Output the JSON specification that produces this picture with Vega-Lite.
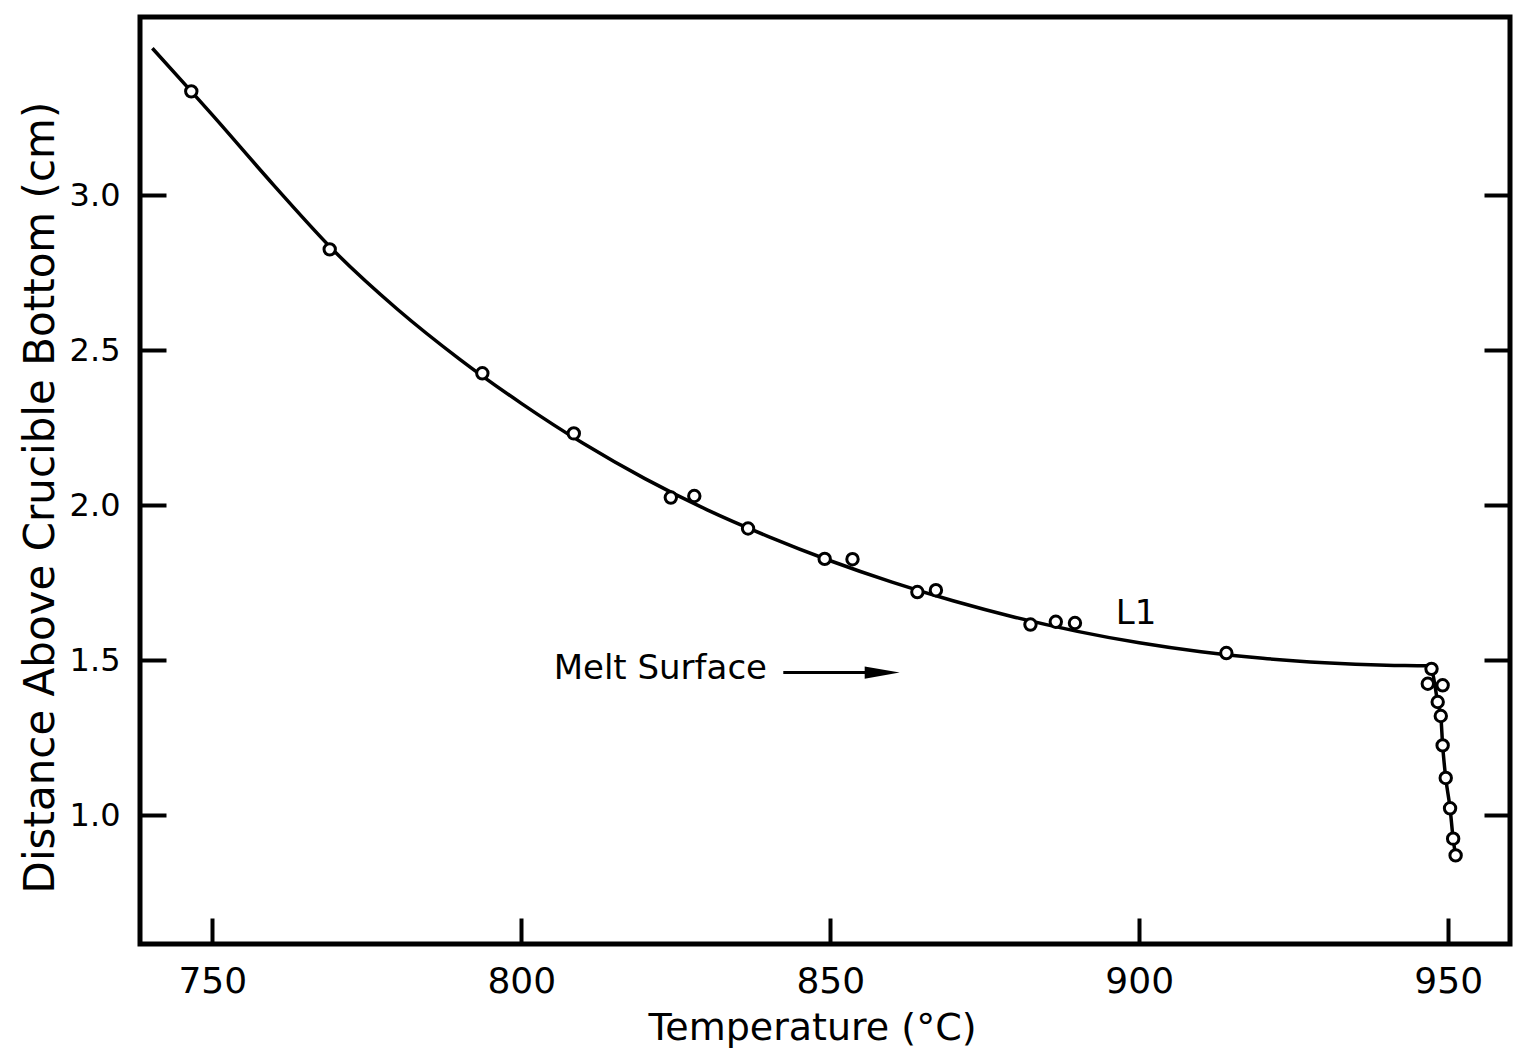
{
  "$schema": "https://vega.github.io/schema/vega-lite/v6.json",
  "autosize": "none",
  "width": 1370,
  "height": 927,
  "padding": {"left": 140, "top": 17, "right": 6, "bottom": 115},
  "background": "white",
  "config": {
    "view": {"stroke": "black", "strokeWidth": 5},
    "axis": {
      "domain": false,
      "grid": false,
      "tickColor": "black",
      "tickWidth": 4,
      "tickSize": -26,
      "labelColor": "black",
      "labelFont": "DejaVu Sans",
      "labelFontSize": 34,
      "titleColor": "black",
      "titleFont": "DejaVu Sans",
      "titleFontSize": 38,
      "titleFontWeight": "normal"
    }
  },
  "datasets": {
    "curve": [
      {"temp": 740.3, "dist": 3.475},
      {"temp": 746.6, "dist": 3.336},
      {"temp": 750, "dist": 3.26},
      {"temp": 760, "dist": 3.032},
      {"temp": 770, "dist": 2.815},
      {"temp": 780, "dist": 2.632},
      {"temp": 790, "dist": 2.472},
      {"temp": 800, "dist": 2.329},
      {"temp": 810, "dist": 2.2},
      {"temp": 820, "dist": 2.086},
      {"temp": 830, "dist": 1.986},
      {"temp": 840, "dist": 1.899},
      {"temp": 850, "dist": 1.821},
      {"temp": 860, "dist": 1.752},
      {"temp": 870, "dist": 1.691},
      {"temp": 880, "dist": 1.638},
      {"temp": 890, "dist": 1.593},
      {"temp": 900, "dist": 1.556},
      {"temp": 910, "dist": 1.527},
      {"temp": 920, "dist": 1.506},
      {"temp": 930, "dist": 1.492},
      {"temp": 940, "dist": 1.484},
      {"temp": 946.5, "dist": 1.482},
      {"temp": 947.3, "dist": 1.47},
      {"temp": 948.3, "dist": 1.365},
      {"temp": 948.8, "dist": 1.32},
      {"temp": 949.1, "dist": 1.225},
      {"temp": 949.6, "dist": 1.12},
      {"temp": 950.3, "dist": 1.022},
      {"temp": 950.8, "dist": 0.924},
      {"temp": 951.2, "dist": 0.87}
    ],
    "obs": [
      {"temp": 746.6, "dist": 3.336},
      {"temp": 769.0, "dist": 2.826},
      {"temp": 793.7, "dist": 2.426},
      {"temp": 808.5, "dist": 2.232},
      {"temp": 824.2, "dist": 2.025},
      {"temp": 828.0, "dist": 2.03},
      {"temp": 836.7, "dist": 1.925},
      {"temp": 849.1, "dist": 1.827},
      {"temp": 853.6, "dist": 1.826},
      {"temp": 864.1, "dist": 1.72},
      {"temp": 867.1, "dist": 1.726},
      {"temp": 882.4, "dist": 1.615},
      {"temp": 886.5, "dist": 1.624},
      {"temp": 889.6, "dist": 1.62},
      {"temp": 914.1, "dist": 1.523},
      {"temp": 947.3, "dist": 1.472},
      {"temp": 946.7, "dist": 1.424},
      {"temp": 949.1, "dist": 1.419},
      {"temp": 948.3, "dist": 1.365},
      {"temp": 948.8, "dist": 1.32},
      {"temp": 949.1, "dist": 1.225},
      {"temp": 949.6, "dist": 1.12},
      {"temp": 950.3, "dist": 1.022},
      {"temp": 950.8, "dist": 0.924},
      {"temp": 951.2, "dist": 0.87}
    ],
    "notes": [
      {"temp": 899.5, "dist": 1.649, "label": "L1"},
      {"temp": 822.5, "dist": 1.473, "label": "Melt Surface"}
    ],
    "arrow": [
      {"temp": 842.4, "temp2": 857.0, "dist": 1.46}
    ],
    "arrowhead": [
      {"temp": 858.4, "dist": 1.46}
    ]
  },
  "resolve": {"axis": {"y": "independent"}},
  "layer": [
    {
      "data": {"name": "curve"},
      "mark": {"type": "line", "color": "black", "strokeWidth": 3.5, "interpolate": "monotone", "clip": true},
      "encoding": {
        "x": {
          "field": "temp", "type": "quantitative",
          "scale": {"domain": [738.3, 960], "nice": false, "zero": false},
          "axis": {
            "orient": "bottom",
            "values": [750, 800, 850, 900, 950],
            "labelFontSize": 36,
            "labelPadding": 46,
            "title": "Temperature (°C)",
            "titleX": 672,
            "titleY": 84,
            "titleAlign": "center",
            "titleBaseline": "middle"
          }
        },
        "y": {
          "field": "dist", "type": "quantitative",
          "scale": {"domain": [0.584, 3.576], "nice": false, "zero": false},
          "axis": {
            "orient": "left",
            "values": [1.0, 1.5, 2.0, 2.5, 3.0],
            "format": ".1f",
            "labelFontSize": 32,
            "labelPadding": 46,
            "title": "Distance Above Crucible Bottom (cm)",
            "titleFontSize": 42,
            "titleX": -100,
            "titleY": 480,
            "titleAlign": "center",
            "titleBaseline": "middle",
            "titleAngle": -90
          }
        }
      }
    },
    {
      "data": {"name": "obs"},
      "mark": {"type": "point", "shape": "circle", "filled": true, "fill": "white", "stroke": "black", "strokeWidth": 3, "size": 130, "opacity": 1},
      "encoding": {
        "x": {"field": "temp", "type": "quantitative"},
        "y": {
          "field": "dist", "type": "quantitative",
          "axis": {"orient": "right", "values": [1.0, 1.5, 2.0, 2.5, 3.0], "labels": false, "title": null}
        }
      }
    },
    {
      "data": {"name": "arrow"},
      "mark": {"type": "rule", "color": "black", "strokeWidth": 3},
      "encoding": {
        "x": {"field": "temp", "type": "quantitative"},
        "x2": {"field": "temp2"},
        "y": {"field": "dist", "type": "quantitative", "axis": null}
      }
    },
    {
      "data": {"name": "arrowhead"},
      "mark": {"type": "point", "shape": "M-1,-0.35L1,0L-1,0.35Z", "filled": true, "color": "black", "size": 1225, "opacity": 1},
      "encoding": {
        "x": {"field": "temp", "type": "quantitative"},
        "y": {"field": "dist", "type": "quantitative", "axis": null}
      }
    },
    {
      "data": {"name": "notes"},
      "mark": {"type": "text", "font": "DejaVu Sans", "fontSize": 34, "color": "black", "align": "center", "baseline": "middle"},
      "encoding": {
        "x": {"field": "temp", "type": "quantitative"},
        "y": {"field": "dist", "type": "quantitative", "axis": null},
        "text": {"field": "label"}
      }
    }
  ]
}
